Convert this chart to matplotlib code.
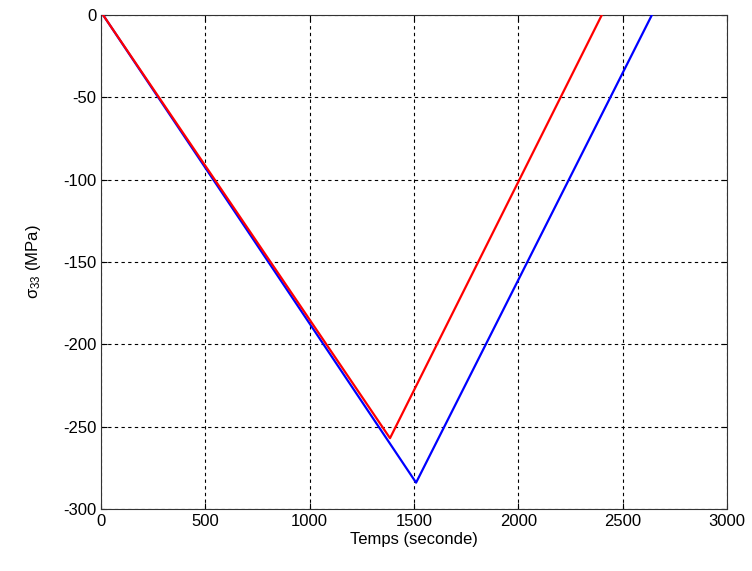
import matplotlib
matplotlib.use("Agg")
import matplotlib.pyplot as plt

# Data (vertices)
red_t = [10, 1385, 2400]
red_s = [0, -257, 0]
blue_t = [10, 1510, 2640]
blue_s = [0, -284, 0]

xticks = [0, 500, 1000, 1500, 2000, 2500, 3000]
yticks = [-300, -250, -200, -150, -100, -50, 0]

plt.rcParams['font.family'] = ['Liberation Sans', 'DejaVu Sans']
plt.rcParams['mathtext.default'] = 'regular'
plt.rcParams['axes.unicode_minus'] = False

fig = plt.figure(figsize=(7.52, 5.71), dpi=100)
ax = fig.add_axes([101/752, 1-509/571, (727-101)/752, (509-15)/571])

ax.plot(blue_t, blue_s, color='#0000ff', lw=1.6, zorder=3)
ax.plot(red_t, red_s, color='#ff0000', lw=1.6, zorder=4)

ax.set_xlim(0, 3000)
ax.set_ylim(-300, 0)
ax.set_xticks(xticks)
ax.set_yticks(yticks)
ax.tick_params(direction='in', labelsize=12, length=4, width=0.8)
ax.tick_params(top=True, right=True, labeltop=False, labelright=False)
ax.grid(True, color='black', linestyle=(0, (3, 3)), linewidth=0.8)
for s in ax.spines.values():
    s.set_linewidth(0.8)
    s.set_color('#333333')

ax.set_xlabel('Temps (seconde)', fontsize=12, labelpad=2)
ax.set_ylabel('\u03c3$_{33}$ (MPa)', fontsize=12, labelpad=14)

fig.savefig('out.png', dpi=100)
